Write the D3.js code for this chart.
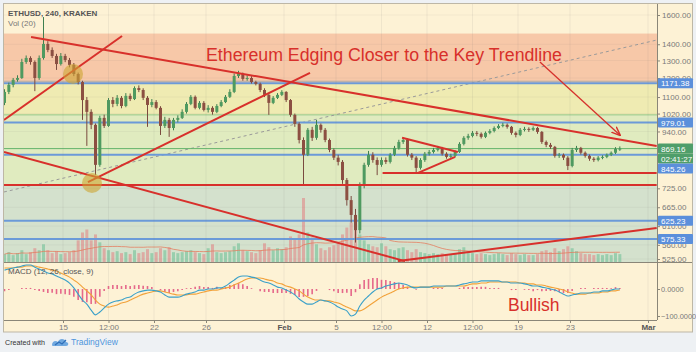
<!DOCTYPE html>
<html><head><meta charset="utf-8">
<script src="https://cdn.jsdelivr.net/npm/d3@7/dist/d3.min.js"></script>
<style>
html,body{margin:0;padding:0;background:#eef1f4;}
svg{display:block;font-family:"Liberation Sans",Arial,sans-serif;}
</style></head><body>
<svg id="c" width="696" height="352"></svg>
<script>
// ---------- DATA ----------
const symbolLabel = "ETHUSD, 240, KRAKEN";
const volLabel = "Vol (20)";
const macdLabel = "MACD (12, 26, close, 9)";
const titleText = "Ethereum Edging Closer to the Key Trendline";
const noteText = "Bullish";
const firstTime = "2018-01-10T12:00:00Z";
const stepHours = 8;
const firstOpen = 1071;
const closes = [1126,1163,1190,1200,1291,1315,1291,1200,1315,1402,
 1364,1327,1279,1327,1303,1274,1222,1178,1085,1028,
 969,807,1000,964,1085,1066,1096,1056,1106,1090,
 1146,1136,1096,1061,1075,1047,964,991,955,991,
 1000,1028,1066,1101,1047,1071,1037,1047,1028,1056,
 1075,1101,1126,1211,1222,1195,1200,1178,1168,1136,
 1111,1071,1096,1111,1126,1085,1014,973,904,845,
 947,913,969,947,904,864,834,818,753,687,
 642,599,736,807,845,825,807,825,818,845,
 872,896,904,845,834,796,825,849,856,864,
 872,849,837,841,856,888,913,921,934,930,
 917,934,942,955,964,969,960,934,925,947,
 951,947,955,938,896,884,876,841,845,834,
 803,864,872,853,841,830,825,834,837,845,
 853,868,869.16];
const highs = [1140,1175,1200,1215,1310,1330,1325,1300,1330,1585,
 1420,1380,1340,1345,1340,1315,1285,1230,1185,1100,
 1040,975,1010,1015,1095,1100,1110,1105,1120,1118,
 1155,1160,1145,1105,1090,1085,1055,1005,1000,1000,
 1012,1040,1075,1110,1108,1080,1080,1060,1055,1065,
 1085,1110,1140,1225,1240,1230,1215,1210,1185,1175,
 1145,1120,1105,1120,1135,1130,1090,1020,980,915,
 955,960,991,975,955,910,870,845,825,760,
 700,660,745,815,860,855,835,835,835,852,
 880,905,915,910,852,840,832,856,864,872,
 880,876,855,849,862,895,920,930,942,942,
 936,940,950,962,972,978,975,964,940,955,
 960,958,962,960,942,902,892,880,852,850,
 840,872,880,876,858,846,836,840,843,850,
 858,875,878];
const lows = [1060,1115,1150,1180,1195,1280,1275,1130,1190,1305,
 1350,1315,1245,1270,1290,1260,1210,1165,991,880,
 950,770,800,955,960,1050,1055,1045,1050,1080,
 1085,1125,1085,960,1050,1040,925,955,917,945,
 980,995,1020,1060,1040,1040,1030,1025,1015,1022,
 1050,1070,1095,1120,1200,1185,1185,1170,1160,1125,
 1100,1014,1065,1090,1105,1075,1005,960,890,736,
 840,900,905,935,895,855,825,805,740,670,
 620,566,590,725,800,815,770,800,810,812,
 840,865,888,838,825,778,790,818,842,850,
 858,842,830,830,836,852,882,905,915,920,
 910,912,928,936,950,958,952,926,915,920,
 940,938,942,930,888,875,868,834,833,825,
 788,798,856,846,834,822,818,820,828,832,
 840,848,860];
const volumes = [8,10,7,9,12,8,10,14,12,18,
 12,9,11,8,9,10,12,22,30,33,
 22,28,20,14,12,10,11,9,10,8,
 12,9,10,13,9,10,14,12,15,10,
 9,10,11,12,10,9,8,14,18,10,
 9,10,11,16,19,12,11,10,9,12,
 19,15,12,14,13,15,26,23,28,65,
 30,25,18,14,12,15,17,20,28,35,
 40,36,28,22,18,16,15,19,16,13,
 12,14,15,12,10,13,10,9,8,9,
 8,9,8,8,9,13,15,11,9,8,
 9,8,7,8,9,8,7,9,8,7,
 8,7,7,8,11,12,10,14,11,13,
 16,14,11,9,8,8,7,8,7,8,
 7,9,8];
const macdValues = [70,74,78,81,85,89,89,81,74,67,
 59,56,48,41,33,22,4,-19,-41,-56,
 -78,-96,-85,-70,-56,-48,-44,-41,-33,-30,
 -19,-11,-7,-4,-4,-7,-11,-22,-30,-30,
 -30,-26,-19,-15,-11,-4,-4,0,0,4,
 4,11,22,33,44,48,48,44,41,33,
 26,22,15,7,4,-4,-11,-22,-37,-48,
 -56,-56,-48,-41,-44,-48,-56,-67,-74,-81,
 -100,-93,-63,-41,-26,-11,0,4,11,15,
 19,22,19,15,7,4,7,7,7,11,
 11,11,11,11,11,15,19,22,26,26,
 30,30,30,30,30,26,26,22,22,22,
 19,15,11,11,7,4,0,-4,-11,-19,
 -26,-22,-19,-15,-15,-15,-11,-11,-7,-7,
 -4,0,0];
const signalValues = [78,78,78,81,81,85,85,85,81,78,
 74,70,67,59,52,44,33,22,7,-7,
 -22,-41,-56,-63,-67,-63,-59,-52,-48,-41,
 -33,-26,-19,-15,-11,-7,-7,-11,-15,-19,
 -22,-22,-22,-19,-19,-15,-11,-7,-4,-4,
 0,4,7,15,22,30,37,41,41,41,
 37,33,30,22,19,11,7,0,-7,-19,
 -30,-37,-41,-41,-44,-44,-48,-52,-59,-67,
 -74,-81,-81,-74,-63,-52,-41,-30,-22,-15,
 -7,0,4,7,7,7,7,7,7,7,
 7,7,11,11,11,11,11,15,19,19,
 22,22,26,26,26,26,26,26,26,22,
 22,19,19,15,15,11,7,4,0,-4,
 -11,-15,-19,-19,-19,-15,-15,-15,-11,-11,
 -7,-7,-4];
const priceTicks = [1600,1400,1300,1200,1100,1020,940,725,665,610,560,525];
const macdTicks = [0,-100];
const timeTickDates = ["2018-01-15","2018-01-18T12:00","2018-01-22","2018-01-26","2018-02-01","2018-02-05","2018-02-08T12:00","2018-02-12","2018-02-15T12:00","2018-02-19","2018-02-23","2018-03-01"];
const timeTickLabels = ["15","12:00","22","26","Feb","5","12:00","12","12:00","19","23","Mar"];
const boldTickLabels = ["Feb","Mar"];
const levelPrices = [1171.38, 979.01, 845.26, 625.23, 575.33];
const currentPrice = 869.16;
const countdown = "02:41:27";
// zone boundaries (price): salmon, yellow, green, grey-green
const zoneEdges = [1470, 1171.38, 1014, 736, 500];
// trendlines [t1, p1, t2, p2]
const redLines = [
 ["2018-01-12T13:00",1447,"2018-03-01T16:00",880],
 ["2018-01-10T11:00",991,"2018-01-19T13:00",1454],
 ["2018-01-16T22:00",746,"2018-02-03T00:00",1228],
 ["2018-01-10T11:00",856,"2018-02-10T07:30",520],
 ["2018-02-09T18:30",520,"2018-03-01T16:00",605],
 ["2018-01-10T11:00",736,"2018-03-01T16:00",736],
 ["2018-02-08T14:00",778,"2018-03-01T16:00",778],
 ["2018-02-10T02:00",913,"2018-02-14T09:00",856],
 ["2018-02-11T07:30",778,"2018-02-14T04:00",837]
];
const dashedLine = ["2018-01-10T11:00",713,"2018-03-01T16:00",1427];
const arrowLine = ["2018-02-20T16:30",1291,"2018-02-26T20:00",925];
const circles = [["2018-01-15T18:30",1222],["2018-01-17T05:30",743]];
const titleAnchor = ["2018-01-26T00:00", 1297];
const noteAnchor = ["2018-02-18T05:30", -81];

// ---------- SETUP ----------
const svg = d3.select("#c");
const L = 4, R = 657, T = 4, PB = 262, MB = 320;
const x = d3.scaleUtc().domain([new Date("2018-01-15T00:00Z"), new Date("2018-03-01T00:00Z")]).range([63, 648]);
const y = d3.scaleLog().domain([1600, 525]).range([15, 259]);
const ym = d3.scaleLinear().domain([0, -100]).range([289, 316]);
const yv = d3.scaleLinear().domain([0, 65]).range([PB, PB - 64]);
const td = s => new Date(s.endsWith("Z") ? s : s + (s.length > 10 ? ":00Z" : "T00:00:00Z"));
const t0 = new Date(firstTime).getTime();
const candles = closes.map((c, i) => {
  const o = i === 0 ? firstOpen : closes[i - 1];
  return {t: new Date(t0 + i * stepHours * 3600e3), o, c,
          h: Math.max(highs[i], o, c), l: Math.min(lows[i], o, c), v: volumes[i],
          m: macdValues[i], s: signalValues[i]};
});

svg.append("rect").attr("width", 696).attr("height", 352).attr("fill", "#eef1f4");
svg.append("rect").attr("x", 3.5).attr("y", 3.5).attr("width", 689).attr("height", 328.5)
  .attr("fill", "#fdf2d5").attr("stroke", "#bdb7a6");

const defs = svg.append("defs");
defs.append("clipPath").attr("id", "pc").append("rect").attr("x", L).attr("y", T).attr("width", R - L).attr("height", PB - T);
defs.append("clipPath").attr("id", "mc").append("rect").attr("x", L).attr("y", PB).attr("width", R - L).attr("height", MB - PB);
defs.append("marker").attr("id", "ah").attr("viewBox", "0 0 10 10").attr("refX", 9).attr("refY", 5)
  .attr("markerWidth", 7).attr("markerHeight", 7).attr("orient", "auto-start-reverse")
  .append("path").attr("d", "M0,1 L10,5 L0,9").attr("fill", "none").attr("stroke", "#d6312c").attr("stroke-width", 1.6);

const pane = svg.append("g").attr("clip-path", "url(#pc)");

// zones
const zoneColors = ["#f7c8a8", "#efebb2", "#e0ebbf", "#d4e1cd"];
d3.range(zoneEdges.length - 1).forEach(i => {
  pane.append("rect").attr("x", L).attr("width", R - L)
    .attr("y", y(zoneEdges[i])).attr("height", y(zoneEdges[i + 1]) - y(zoneEdges[i]))
    .attr("fill", zoneColors[i]);
});
pane.append("line").attr("x1", L).attr("x2", R).attr("y1", y(zoneEdges[1]) - 2).attr("y2", y(zoneEdges[1]) - 2)
  .attr("stroke", "#9aa3a8").attr("stroke-width", 0.8);
pane.append("line").attr("x1", L).attr("x2", R).attr("y1", y(zoneEdges[2])).attr("y2", y(zoneEdges[2]))
  .attr("stroke", "#7fc07f").attr("stroke-width", 0.8);

// grid
const tickDates = timeTickDates.map(td);
svg.append("g").selectAll("line").data(tickDates).join("line")
  .attr("x1", d => x(d)).attr("x2", d => x(d)).attr("y1", T).attr("y2", MB)
  .attr("stroke", "rgba(120,120,120,0.10)");
pane.append("g").selectAll("line").data(priceTicks).join("line")
  .attr("x1", L).attr("x2", R).attr("y1", d => y(d)).attr("y2", d => y(d))
  .attr("stroke", "rgba(120,120,120,0.07)");

// volume
pane.append("g").selectAll("rect").data(candles).join("rect")
  .attr("x", d => x(d.t) - 1.5).attr("width", 3)
  .attr("y", d => yv(d.v)).attr("height", d => PB - yv(d.v))
  .attr("fill", d => d.c >= d.o ? "rgba(83,185,135,0.45)" : "rgba(232,90,100,0.40)");
const volMA = candles.map((d, i) => ({t: d.t, v: d3.mean(volumes.slice(Math.max(0, i - 19), i + 1))}));
pane.append("path").datum(volMA).attr("fill", "none").attr("stroke", "rgba(230,120,90,0.75)").attr("stroke-width", 1)
  .attr("d", d3.line().x(d => x(d.t)).y(d => yv(d.v)));

// dashed trend
pane.append("line").attr("x1", x(td(dashedLine[0]))).attr("y1", y(dashedLine[1]))
  .attr("x2", x(td(dashedLine[2]))).attr("y2", y(dashedLine[3]))
  .attr("stroke", "#9a9a9a").attr("stroke-dasharray", "3,3").attr("stroke-width", 1);

// levels
pane.append("g").selectAll("line").data(levelPrices).join("line")
  .attr("x1", L).attr("x2", R).attr("y1", d => y(d)).attr("y2", d => y(d))
  .attr("stroke", "#6b9ad8").attr("stroke-width", 2);
pane.append("line").attr("x1", L).attr("x2", R).attr("y1", y(currentPrice)).attr("y2", y(currentPrice))
  .attr("stroke", "#62b36a").attr("stroke-width", 1);

// candles
const cg = pane.append("g");
cg.selectAll("line").data(candles).join("line")
  .attr("x1", d => x(d.t)).attr("x2", d => x(d.t)).attr("y1", d => y(d.h)).attr("y2", d => y(d.l))
  .attr("stroke", d => d.c >= d.o ? "#3e7f4f" : "#7a4a3f").attr("stroke-width", 1);
cg.selectAll("rect").data(candles).join("rect")
  .attr("x", d => x(d.t) - 1.5).attr("width", 3)
  .attr("y", d => y(Math.max(d.o, d.c))).attr("height", d => Math.max(1, Math.abs(y(d.o) - y(d.c))))
  .attr("fill", d => d.c >= d.o ? "#4f9a60" : "#8c4f42");

// red lines
pane.append("g").selectAll("line").data(redLines).join("line")
  .attr("x1", d => x(td(d[0]))).attr("y1", d => y(d[1])).attr("x2", d => x(td(d[2]))).attr("y2", d => y(d[3]))
  .attr("stroke", "#d8302b").attr("stroke-width", 2);

// circles
pane.append("g").selectAll("circle").data(circles).join("circle")
  .attr("cx", d => x(td(d[0]))).attr("cy", d => y(d[1])).attr("r", 10)
  .attr("fill", "rgba(205,165,50,0.6)");

// title + arrow
svg.append("text").attr("x", x(td(titleAnchor[0]))).attr("y", y(titleAnchor[1]))
  .attr("font-size", 18).attr("fill", "#d8302b").attr("textLength", 356).attr("lengthAdjust", "spacingAndGlyphs")
  .text(titleText);
svg.append("line").attr("x1", x(td(arrowLine[0]))).attr("y1", y(arrowLine[1]))
  .attr("x2", x(td(arrowLine[2]))).attr("y2", y(arrowLine[3]))
  .attr("stroke", "#d6312c").attr("stroke-width", 1.3).attr("marker-end", "url(#ah)");

// header texts
svg.append("text").attr("x", 8).attr("y", 16).attr("font-size", 8).attr("font-weight", 700).attr("fill", "#555").text(symbolLabel);
svg.append("text").attr("x", 8).attr("y", 26).attr("font-size", 8).attr("fill", "#777").text(volLabel);

// ---------- MACD pane ----------
const mp = svg.append("g").attr("clip-path", "url(#mc)");
mp.append("g").selectAll("line").data(candles).join("line")
  .attr("x1", d => x(d.t)).attr("x2", d => x(d.t)).attr("y1", ym(0)).attr("y2", d => ym(d.m - d.s))
  .attr("stroke", "#e2507e").attr("stroke-width", 1.6).attr("opacity", 0.85);
mp.append("path").datum(candles).attr("fill", "none").attr("stroke", "#f2a23a").attr("stroke-width", 1.1)
  .attr("d", d3.line().curve(d3.curveMonotoneX).x(d => x(d.t)).y(d => ym(d.s)));
mp.append("path").datum(candles).attr("fill", "none").attr("stroke", "#3aa0c9").attr("stroke-width", 1.1)
  .attr("d", d3.line().curve(d3.curveMonotoneX).x(d => x(d.t)).y(d => ym(d.m)));
svg.append("text").attr("x", 8).attr("y", 274).attr("font-size", 8).attr("fill", "#555").text(macdLabel);
svg.append("text").attr("x", x(td(noteAnchor[0]))).attr("y", ym(noteAnchor[1]))
  .attr("font-size", 17.5).attr("fill", "#d8302b").text(noteText);

// separators
svg.append("line").attr("x1", R + 0.5).attr("x2", R + 0.5).attr("y1", T).attr("y2", MB).attr("stroke", "#8a8678");
svg.append("line").attr("x1", L).attr("x2", 692).attr("y1", PB + 0.5).attr("y2", PB + 0.5).attr("stroke", "#8a8678");
svg.append("line").attr("x1", L).attr("x2", R).attr("y1", MB + 0.5).attr("y2", MB + 0.5).attr("stroke", "#8a8678");

// ---------- axes ----------
function styleAxis(g, fs) {
  g.select(".domain").remove();
  g.selectAll("text").attr("font-size", fs).attr("fill", "#7a7a7a").attr("font-family", "'Liberation Sans',Arial,sans-serif");
  g.selectAll("line").attr("stroke", "#8a8678");
}
svg.append("g").attr("transform", `translate(${R},0)`)
  .call(d3.axisRight(y).tickValues(priceTicks).tickFormat(d3.format(".2f")).tickSize(3).tickPadding(2)).call(styleAxis, 8);
svg.append("g").attr("transform", `translate(${R},0)`)
  .call(d3.axisRight(ym).tickValues(macdTicks).tickFormat(d3.format(".4f")).tickSize(3).tickPadding(1)).call(styleAxis, 7.4);
const xa = svg.append("g").attr("transform", `translate(0,${MB})`)
  .call(d3.axisBottom(x).tickValues(tickDates).tickFormat((d, i) => timeTickLabels[i]).tickSize(3).tickPadding(1));
styleAxis(xa, 8);
xa.selectAll("text").attr("font-weight", (d, i) => boldTickLabels.includes(timeTickLabels[i]) ? 700 : 400)
  .attr("fill", (d, i) => boldTickLabels.includes(timeTickLabels[i]) ? "#555" : "#7a7a7a");

// price label boxes (stacked so they never collide)
const boxes = levelPrices.map(p => ({want: y(p), text: d3.format(".2f")(p), fill: "#5b8fdb"}));
const curBox = {want: y(currentPrice), text: d3.format(".2f")(currentPrice), fill: "#4f9e6a", cur: true};
const cdBox = {want: y(currentPrice) + 10, text: countdown, fill: "#4f9e6a"};
const order = boxes.concat([curBox]).sort((a, b) => a.want - b.want);
order.splice(order.indexOf(curBox) + 1, 0, cdBox);
let prev = -1e9;
order.forEach(b => { b.y = Math.max(b.want, prev + 10); prev = b.y; });
const bg = svg.append("g");
order.forEach(b => {
  bg.append("rect").attr("x", R + 1).attr("y", b.y - 5).attr("width", 35).attr("height", 10).attr("fill", b.fill).attr("rx", 1);
  bg.append("text").attr("x", R + 4).attr("y", b.y + 3).attr("font-size", 8).attr("fill", "#fff").text(b.text);
});

// footer
svg.append("text").attr("x", 5).attr("y", 345).attr("font-size", 7.8).attr("fill", "#333")
  .attr("textLength", 40).attr("lengthAdjust", "spacingAndGlyphs").text("Created with");
const logo = svg.append("g").attr("transform", "translate(52,337)");
logo.append("path").attr("d", "M0,8 C0,4 4,3 6,5 C7,1 13,1 14,5 C17,5 17,9 14,9 L2,9 C1,9 0,9 0,8 Z").attr("fill", "#6fa8e0");
logo.append("path").attr("d", "M3,8 L7,5 L10,7 L14,3").attr("fill", "none").attr("stroke", "#2f6fb8").attr("stroke-width", 1.2);
svg.append("text").attr("x", 71).attr("y", 345).attr("font-size", 8.5).attr("fill", "#4f95dc").text("TradingView");
</script>
</body></html>
